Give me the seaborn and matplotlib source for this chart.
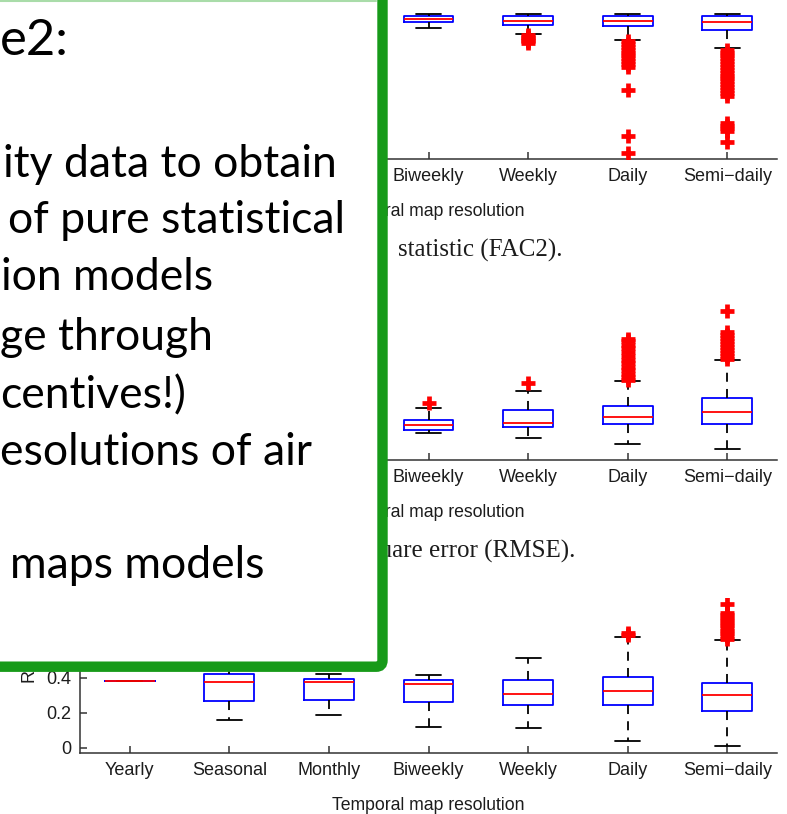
import matplotlib
matplotlib.use("Agg")
import matplotlib.pyplot as plt
from matplotlib.patches import FancyBboxPatch
from matplotlib.lines import Line2D
import pandas as pd
import seaborn as sns

# ---- data ----------------------------------------------------------------
CATEGORIES = ["Yearly", "Seasonal", "Monthly", "Biweekly", "Weekly", "Daily", "Semi\u2212daily"]

# five-number summaries per category: lower whisker, Q1, median, Q3, upper whisker
FAC2_SUMMARY = [
    [0.96, 0.97, 0.98, 0.99, 1.00],
    [0.93, 0.96, 0.975, 0.99, 1.00],
    [0.91, 0.95, 0.97, 0.985, 1.00],
    [0.904, 0.942, 0.965, 0.986, 1.00],
    [0.858, 0.921, 0.953, 0.986, 1.00],
    [0.818, 0.916, 0.953, 0.986, 1.00],
    [0.762, 0.888, 0.944, 0.986, 1.00],
]
FAC2_OUTLIERS = {
    "Weekly": [0.85, 0.84, 0.83, 0.82, 0.81, 0.80],
    "Daily": [0.81, 0.79, 0.77, 0.75, 0.73, 0.71, 0.69, 0.67, 0.65, 0.63, 0.47, 0.15, 0.03],
    "Semi\u2212daily": [0.75, 0.73, 0.71, 0.69, 0.67, 0.65, 0.63, 0.61, 0.59, 0.57, 0.55,
                        0.53, 0.51, 0.49, 0.47, 0.45, 0.43, 0.24, 0.22, 0.20, 0.18, 0.105],
}

RMSE_SUMMARY = [
    [3.0, 3.4, 3.8, 4.2, 4.6],
    [3.2, 4.0, 4.6, 5.4, 6.8],
    [3.6, 4.6, 5.4, 6.4, 8.4],
    [4.54, 5.2, 6.14, 7.2, 9.54],
    [3.66, 5.8, 6.66, 9.14, 13.0],
    [2.34, 6.34, 7.86, 10.0, 14.94],
    [1.46, 6.34, 8.86, 11.66, 19.14],
]
RMSE_OUTLIERS = {
    "Biweekly": [10.54],
    "Weekly": [14.66],
    "Daily": [15.2, 15.8, 16.5, 17.2, 17.9, 18.6, 19.3, 20.0, 20.8, 21.6, 22.3, 23.0, 23.5],
    "Semi\u2212daily": [19.4, 20.0, 20.6, 21.2, 21.8, 22.4, 23.0, 23.6, 24.2, 24.8, 29.1],
}

R_SUMMARY = [
    [0.38, 0.38, 0.38, 0.38, 0.38],
    [0.16, 0.27, 0.379, 0.423, 0.52],
    [0.19, 0.276, 0.379, 0.396, 0.423],
    [0.122, 0.261, 0.366, 0.389, 0.419],
    [0.113, 0.246, 0.309, 0.389, 0.513],
    [0.042, 0.246, 0.326, 0.404, 0.633],
    [0.011, 0.213, 0.303, 0.373, 0.617],
]
R_OUTLIERS = {
    "Daily": [0.645, 0.655],
    "Semi\u2212daily": [0.625, 0.64, 0.655, 0.67, 0.685, 0.70, 0.715, 0.73, 0.745, 0.76,
                        0.77, 0.82],
}

SLIDE_LINES = [
    "e2:",
    "ity data to obtain",
    "of pure statistical",
    "ion models",
    "ge through",
    "centives!)",
    "esolutions of air",
    "maps models",
]

GREEN = "#179a19"
TEXT = "#1c1c1c"

sns.set_style("ticks")
plt.rcParams["font.family"] = ["Liberation Sans", "DejaVu Sans"]


def to_frame(summary, outliers):
    box = pd.DataFrame(
        [(cat, v) for cat, vals in zip(CATEGORIES, summary) for v in vals],
        columns=["resolution", "value"],
    )
    out = pd.DataFrame(
        [(cat, v) for cat, vals in outliers.items() for v in vals],
        columns=["resolution", "value"],
    )
    return box, out


def draw_panel(ax, summary, outliers, ylim, ylabel, yticks):
    box, out = to_frame(summary, outliers)
    sns.boxplot(
        data=box, x="resolution", y="value", order=CATEGORIES, ax=ax,
        whis=(0, 100), width=0.5, fill=False, color="#0000ff", saturation=1,
        linewidth=1.3, showfliers=False,
        whiskerprops={"color": "black", "linestyle": (0, (5, 4))},
        capprops={"color": "black"},
        medianprops={"color": "#ff0000"},
    )
    sns.stripplot(
        data=out, x="resolution", y="value", order=CATEGORIES, ax=ax,
        jitter=False, marker="+", color="#ff0000", size=9.5, linewidth=3.4, zorder=5,
    )
    ax.set_xlim(-0.5, len(CATEGORIES) - 0.5)
    ax.set_ylim(*ylim)
    ax.set_xticks(range(len(CATEGORIES)))
    ax.set_xticklabels(CATEGORIES)
    ax.set_yticks(yticks)
    ax.set_yticklabels(["0" if t == 0 else f"{t:g}" for t in yticks])
    ax.set_xlabel("Temporal map resolution", fontsize=12.7, color=TEXT, labelpad=13)
    ax.set_ylabel(ylabel, fontsize=13, color=TEXT, labelpad=6)
    ax.tick_params(direction="in", length=5, width=1.1, colors="#333333",
                   labelcolor=TEXT, labelsize=13, pad=6.5)
    sns.despine(ax=ax)
    for side in ("left", "bottom"):
        ax.spines[side].set_color("#333333")
        ax.spines[side].set_linewidth(1.1)


W, H = 787, 814
fig = plt.figure(figsize=(W / 100, H / 100), dpi=100)

left, width = 80 / W, 697 / W
ax1 = fig.add_axes([left, 1 - 159.3 / H, width, 154.3 / H])
ax2 = fig.add_axes([left, 1 - 460 / H, width, 160 / H])
ax3 = fig.add_axes([left, 1 - 753 / H, width, 155 / H])

draw_panel(ax1, FAC2_SUMMARY, FAC2_OUTLIERS, (-0.016, 1.063), "FAC2", [0, 0.5, 1])
draw_panel(ax2, RMSE_SUMMARY, RMSE_OUTLIERS, (-0.8, 31.2), "RMSE", [0, 10, 20, 30])
draw_panel(ax3, R_SUMMARY, R_OUTLIERS, (-0.0286, 0.857), "R", [0, 0.2, 0.4, 0.6, 0.8])

# paper captions (their start is hidden behind the slide box)
fig.text(562 / W, 1 - 257 / H, "statistic (FAC2).", ha="right",
         va="baseline", fontsize=18, family="Liberation Serif", color=TEXT)
fig.text(575 / W, 1 - 558 / H, "(c) Root mean square error (RMSE).", ha="right",
         va="baseline", fontsize=18, family="Liberation Serif", color=TEXT)

# slide text box with green border on top of the figure
fig.add_artist(FancyBboxPatch(
    (-0.1, 1 - 666.7 / H), 0.1 + 382.5 / W, 0.3 + 666.7 / H,
    boxstyle="round,pad=0,rounding_size=0.008", transform=fig.transFigure,
    facecolor="white", edgecolor=GREEN, linewidth=7.5, zorder=10,
))
fig.add_artist(Line2D([0, 376 / W], [1 - 0.8 / H, 1 - 0.8 / H], transform=fig.transFigure,
                      color="#a9dca9", linewidth=1.5, zorder=11))

line_x = [0, 3, 8, 1, 0, 0, 0, 10]
line_base = [55, 177, 233, 290, 350, 408, 465, 578]
line_size = [36.5, 32, 32, 32, 32, 32, 32, 32]
for s, x, yb, fs in zip(SLIDE_LINES, line_x, line_base, line_size):
    fig.text(x / W, 1 - yb / H, s, ha="left", va="baseline", fontsize=fs,
             family=["Lato", "DejaVu Sans"], color="black", zorder=12)

fig.savefig("out.png", dpi=100)
